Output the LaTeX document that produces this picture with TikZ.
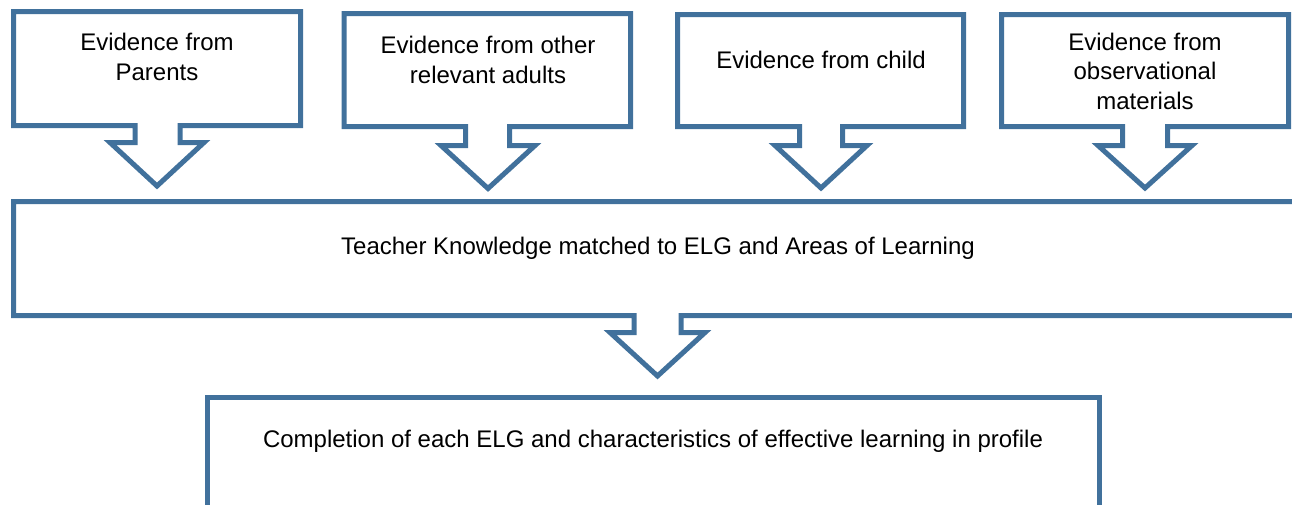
\documentclass[tikz,border=0pt]{standalone}
\usepackage{fontspec}
\setmainfont{Liberation Sans}
\definecolor{callblue}{RGB}{65,113,156}
\begin{document}
\begin{tikzpicture}[x=1pt,y=-1pt,
  callout/.style={draw=callblue,line width=5pt,line join=miter,fill=white},
  lbl/.style={align=center,font=\fontsize{24}{29.5}\selectfont,inner sep=0pt,text=black}]
\useasboundingbox (0,0) rectangle (1292,504);
\clip (0,0) rectangle (1292,504);
% top callouts
\draw[callout] (13.5,11.5) -- (300.5,11.5) -- (300.5,125.5) -- (180,125.5) -- (180,142.5) -- (204,142.5) -- (157,186) -- (110,142.5) -- (135,142.5) -- (135,125.5) -- (13.5,125.5) -- cycle;
\draw[callout] (344,13.5) -- (630.5,13.5) -- (630.5,126.5) -- (509.5,126.5) -- (509.5,145.5) -- (535,145.5) -- (488,188.5) -- (441,145.5) -- (465.5,145.5) -- (465.5,126.5) -- (344,126.5) -- cycle;
\draw[callout] (677.5,14.5) -- (963.5,14.5) -- (963.5,126.5) -- (842.5,126.5) -- (842.5,145.5) -- (867,145.5) -- (821,188) -- (775,145.5) -- (799.5,145.5) -- (799.5,126.5) -- (677.5,126.5) -- cycle;
\draw[callout] (1001.5,14.5) -- (1288.5,14.5) -- (1288.5,126.5) -- (1167.5,126.5) -- (1167.5,145.5) -- (1192,145.5) -- (1145,188) -- (1098,145.5) -- (1122.5,145.5) -- (1122.5,126.5) -- (1001.5,126.5) -- cycle;
% middle callout
\draw[callout] (13.5,201.5) -- (1310,201.5) -- (1310,315.5) -- (681,315.5) -- (681,332.5) -- (705,332.5) -- (657.5,376) -- (610,332.5) -- (634,332.5) -- (634,315.5) -- (13.5,315.5) -- cycle;
% bottom box
\draw[callout] (207.5,520) -- (207.5,397.5) -- (1099.5,397.5) -- (1099.5,520);
% labels
\node[lbl] (parents) at (157,57) {Evidence from\\Parents};
\node[lbl] (adults) at (488,60) {Evidence from other\\relevant adults};
\node[lbl] (child) at (821,60) {Evidence from child};
\node[lbl] (obs) at (1145,71) {Evidence from\\observational\\materials};
\node[lbl] (teacher) at (658,248) {Teacher Knowledge matched to ELG and Areas of Learning};
\node[lbl] (complete) at (653,441) {Completion of each ELG and characteristics of effective learning in profile};
\end{tikzpicture}
\end{document}
